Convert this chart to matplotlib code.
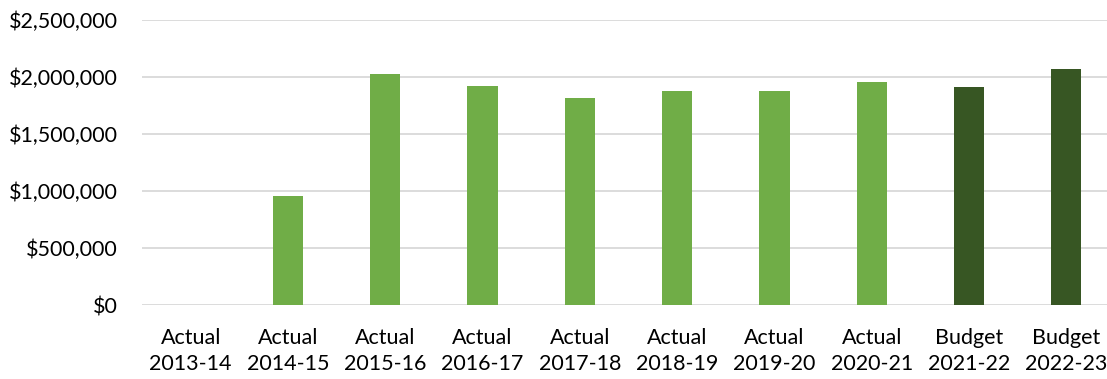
import matplotlib
matplotlib.use("Agg")
import matplotlib.pyplot as plt
from matplotlib.ticker import FuncFormatter

# Annual totals by year
categories = ["Actual\n2013-14", "Actual\n2014-15", "Actual\n2015-16", "Actual\n2016-17",
              "Actual\n2017-18", "Actual\n2018-19", "Actual\n2019-20", "Actual\n2020-21",
              "Budget\n2021-22", "Budget\n2022-23"]
values = [0, 957000, 2023000, 1920000, 1815000, 1874000, 1874000, 1950000, 1909000, 2067000]
kinds = ["Actual"] * 8 + ["Budget"] * 2
y_ticks = [0, 500000, 1000000, 1500000, 2000000, 2500000]

colors = {"Actual": "#70AD47", "Budget": "#375623"}

plt.rcParams["font.family"] = ["Lato", "DejaVu Sans"]

W, H = 1107, 379
fig = plt.figure(figsize=(W / 100, H / 100), dpi=100)
left_px, right_px, top_px, bottom_px = 142, 1107, 19.5, 305
ax = fig.add_axes([left_px / W, 1 - bottom_px / H, (right_px - left_px) / W, (bottom_px - top_px) / H])

x = list(range(len(categories)))
ax.bar(x, values, width=0.31, color=[colors[k] for k in kinds], zorder=3)

spacing = 97.3
ax.set_xlim(-0.5, -0.5 + (right_px - left_px) / spacing)
ax.set_ylim(0, 2500000)
ax.set_yticks(y_ticks)
ax.yaxis.set_major_formatter(FuncFormatter(lambda v, p: f"${v:,.0f}"))
ax.set_xticks(x)
ax.set_xticklabels(categories, linespacing=1.4)

ax.grid(axis="y", color="#D9D9D9", linewidth=1.3, zorder=0)
for s in ax.spines.values():
    s.set_visible(False)
ax.tick_params(axis="both", length=0, labelsize=15.5, colors="#000000")
ax.tick_params(axis="y", pad=17.5)
ax.tick_params(axis="x", pad=16.5)

fig.savefig("out.png", dpi=100)
